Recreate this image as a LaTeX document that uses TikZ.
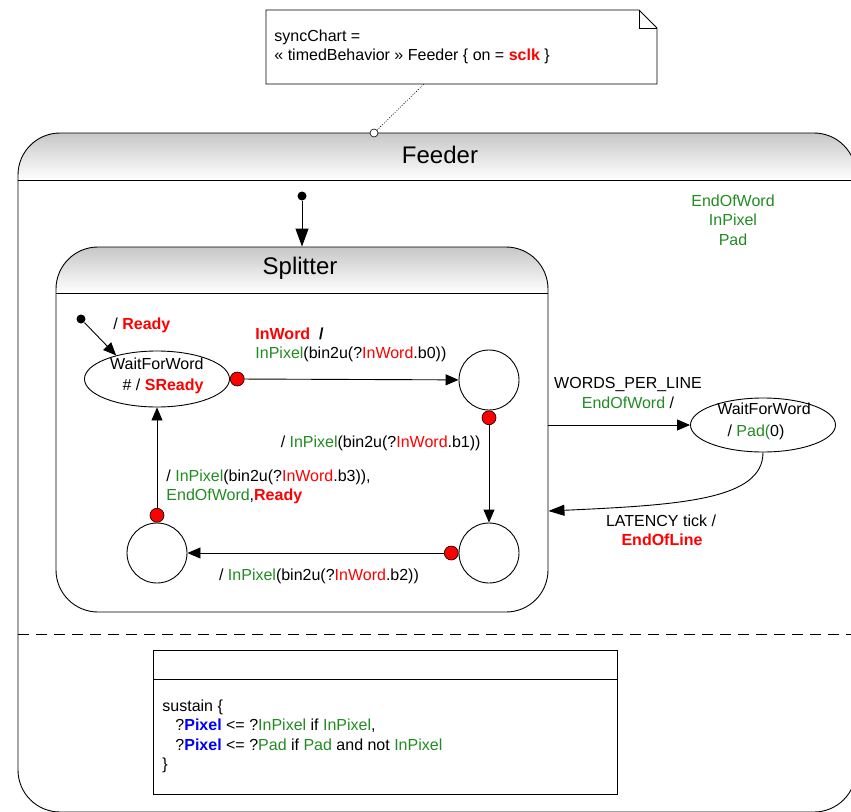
\documentclass[tikz,border=0pt]{standalone}
\usepackage{fontspec}
\setmainfont{Liberation Sans}
\usetikzlibrary{arrows.meta,shapes.geometric,calc}
\definecolor{sigred}{RGB}{255,0,0}
\definecolor{siggreen}{RGB}{34,139,34}
\definecolor{sigblue}{RGB}{0,0,255}
\newcommand{\sigG}[1]{\textcolor{siggreen}{#1}}
\newcommand{\sigR}[1]{\textcolor{sigred}{#1}}
\newcommand{\sigRB}[1]{\textcolor{sigred}{\bfseries #1}}
\newcommand{\sigBB}[1]{\textcolor{sigblue}{\bfseries #1}}
\begin{document}
\begin{tikzpicture}[x=1pt,y=-1pt,line width=0.9pt,
  txt/.style={font=\fontsize{16}{19.5}\selectfont, inner sep=0pt},
  titletxt/.style={font=\fontsize{24}{28}\selectfont, inner sep=0pt},
  state/.style={draw, circle, minimum size=60pt, inner sep=0pt},
  wstate/.style={draw, ellipse, minimum width=145pt, minimum height=56pt, inner sep=0pt},
  trig/.style={draw=black, fill=sigred, circle, minimum size=14pt, inner sep=0pt, line width=0.6pt},
  initdot/.style={fill=black, circle, minimum size=9pt, inner sep=0pt},
  trans/.style={-{Triangle[length=13pt,width=11pt]}},
  bigtrans/.style={-{Triangle[length=18pt,width=13pt]}},
  headshade/.style={top color=black!22, bottom color=white},
  ]
\useasboundingbox (0,0) rectangle (851,811);

% ---- macro state Feeder ----
\begin{scope}
  \clip[rounded corners=42pt] (18,133) rectangle (856,812);
  \shade[headshade] (18,133) rectangle (856,180);
\end{scope}
\draw[rounded corners=42pt] (18,133) rectangle (856,812);
\draw (18,180) -- (856,180);
\node[titletxt] (feeder) at (440,155) {Feeder};
\draw[dash pattern=on 11pt off 7pt] (18,634) -- (856,634);

% local signals
\node[txt, align=center, text=siggreen] (sigs) at (733,220) {EndOfWord\\InPixel\\Pad};

% ---- comment note ----
\node[minimum width=391pt, minimum height=74pt, inner sep=0pt] (note) at (461.5,47) {};
\draw[fill=white] (266,10) -- (639,10) -- (657,28) -- (657,84) -- (266,84) -- cycle;
\draw (639,10) -- (639,28) -- (657,28);
\node[txt, anchor=west, align=left] (notetext) at (274,47)
  {syncChart =\\« timedBehavior » Feeder \{ on = \sigRB{sclk} \}};
\coordinate (notefoot) at (424,84);
\node[draw, circle, fill=white, minimum size=8pt, inner sep=0pt, line width=0.6pt] (pin) at (374,133) {};
\draw[line width=0.6pt, dash pattern=on 1pt off 1.5pt] (notefoot) -- (pin);

% ---- macro state Splitter ----
\node[minimum width=492pt, minimum height=365pt, inner sep=0pt] (splitter) at (302,429.5) {};
\begin{scope}
  \clip[rounded corners=42pt] (56,247) rectangle (548,612);
  \shade[headshade] (56,247) rectangle (548,293);
\end{scope}
\draw[rounded corners=42pt] (56,247) rectangle (548,612);
\draw (56,293) -- (548,293);
\node[titletxt] (splittertitle) at (300,268) {Splitter};

\node[initdot] (fi) at (302,196) {};
\draw[bigtrans] (fi) -- (splitter.north);

% states inside Splitter
\node[wstate] (w1) at (157,379) {};
\node[txt, anchor=east, align=right] (w1t) at (204,376) {WaitForWord\\[1pt]\# / \sigRB{SReady}};
\node[state] (s1) at (489,380) {};
\node[state] (s2) at (489,553) {};
\node[state] (s3) at (157,553) {};

\node[initdot] (si) at (81,319) {};
\draw[trans] (si) -- (w1.150);
\node[txt, anchor=west] (lready) at (113,325) {/ \sigRB{Ready}};

\node[trig, anchor=west] (d1) at (w1.east) {};
\draw[trans] (d1) -- (s1);
\node[txt, anchor=west, align=left] (l1) at (255,345)
  {\sigRB{InWord}~~\textbf{/}\\\sigG{InPixel}(bin2u(?\sigR{InWord}.b0))};

\node[trig, anchor=north] (d2) at (s1.south) {};
\draw[trans] (d2) -- (s2);
\node[txt, anchor=east] (l2) at (481,443) {/ \sigG{InPixel}(bin2u(?\sigR{InWord}.b1))};

\node[trig, anchor=east] (d3) at (s2.west) {};
\draw[trans] (d3) -- (s3);
\node[txt] (l3) at (319,576) {/ \sigG{InPixel}(bin2u(?\sigR{InWord}.b2))};

\node[trig, anchor=south] (d4) at (s3.north) {};
\draw[trans] (d4) -- (w1.south);
\node[txt, anchor=west, align=left] (l4) at (166,487)
  {/ \sigG{InPixel}(bin2u(?\sigR{InWord}.b3)),\\\sigG{EndOfWord},\sigRB{Ready}};

% ---- state after Splitter ----
\node[wstate, minimum height=54pt] (w2) at (763,425) {};
\node[txt] (w2a) at (764,409) {WaitForWord};
\node[txt] (w2b) at (756,432) {/ \sigG{Pad(}0)};

\draw[trans] (w2.west -| splitter.east) -- (w2.west);
\node[txt] (l5a) at (628,384) {WORDS\_PER\_LINE};
\node[txt] (l5b) at (628,403) {\sigG{EndOfWord} /};

\coordinate (latencyrow) at (600,511);
\draw[-{Triangle[length=16pt,width=11pt]}] (w2.south) .. controls (763,500) and (680,505) .. (latencyrow -| splitter.east);
\node[txt] (l6a) at (661,521) {LATENCY tick /};
\node[txt] (l6b) at (662,540) {\sigRB{EndOfLine}};

% ---- sustain block ----
\node[draw, minimum width=464pt, minimum height=144pt, inner sep=0pt] (sus) at (385,722) {};
\draw (sus.west |- 0,679) -- (sus.east |- 0,679);
\node[txt, anchor=west, align=left] (sustext) at (162,736.5)
  {sustain \{\\
   \hspace*{13pt}?\sigBB{Pixel} <= ?\sigG{InPixel} if \sigG{InPixel},\\
   \hspace*{13pt}?\sigBB{Pixel} <= ?\sigG{Pad} if \sigG{Pad} and not \sigG{InPixel}\\
   \}};
\end{tikzpicture}
\end{document}
